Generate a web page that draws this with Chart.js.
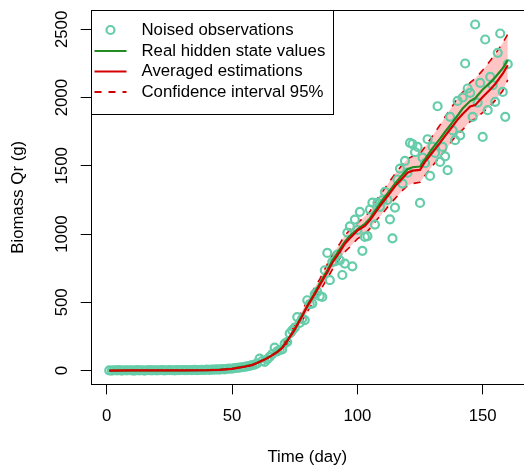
<html>
<head>
<title>Biomass estimation</title>
<script src="https://cdn.jsdelivr.net/npm/chart.js@4.4.1/dist/chart.umd.min.js"></script>
<style>
  html, body { margin: 0; padding: 0; background: #fff; overflow: hidden; }
  #wrap { width: 530px; height: 469px; }
</style>
</head>
<body>
<div id="wrap"><canvas id="plot" width="530" height="469"></canvas></div>
<script>
// ---- data ----
var days = Array.from({ length: 160 }, function (_, i) { return i + 1; });

var observed = [
  1, 0, 2, 1, 3, 0, 2, 1, 2, 1,
  0, 3, 1, 2, 0, 2, 3, 1, 2, 1,
  2, 3, 1, 2, 3, 2, 1, 3, 2, 4,
  3, 2, 4, 3, 5, 3, 4, 5, 4, 6,
  5, 7, 6, 8, 7,
  10, 9, 12, 14, 13, 17, 19, 22, 24, 27, 30, 34, 40, 44, 52,
  87, 70, 63, 82, 100, 120, 168, 140, 150, 155, 198, 209, 272, 295, 314,
  392, 350, 380, 370, 515, 486, 491, 560, 576, 545, 539, 735, 862, 662, 796,
  800, 850, 808, 700, 784, 1011, 1057, 764, 1106, 1030, 1163, 877, 979, 985, 1180,
  1230, 1070, 1228, 1200, 1248, 1309, 1250, 1108, 969, 1194, 1400, 1480, 1370, 1536, 1450,
  1668, 1660, 1600, 1639, 1228, 1560, 1520, 1695, 1426, 1640, 1595, 1937, 1529, 1639, 1570,
  1468, 1859, 1760, 1688, 1976, 1724, 2001, 2250, 2067, 2035, 1859, 2536, 1964, 2108, 1712,
  2426, 1908, 2152, 2091, 1969, 2328, 2470, 2042, 1859, 2245
];

var lineDays = [1, 10, 20, 30, 40, 45, 50, 55, 58, 60, 63, 65, 68, 70, 72, 75, 78, 80, 83, 85, 88, 90,
  93, 95, 97, 100, 103, 105, 108, 110, 113, 115, 118, 120, 122, 125, 127, 130, 133, 135, 138, 140,
  142, 145, 147, 150, 153, 155, 158, 160];

var hiddenState = [0, 0.5, 1, 1.5, 3, 6, 14, 30, 42, 57, 82, 102, 138, 170, 220, 305, 405, 475, 570, 640, 735, 805,
  890, 945, 985, 1035, 1075, 1115, 1195, 1250, 1320, 1370, 1435, 1475, 1490, 1495, 1550, 1630, 1700, 1750, 1820, 1870,
  1920, 1975, 1995, 2060, 2110, 2150, 2215, 2275];

var estimate = [0, 0.5, 1, 1.5, 2, 5, 12, 28, 40, 55, 80, 100, 135, 165, 215, 300, 400, 470, 560, 625, 720, 790,
  870, 930, 970, 1025, 1060, 1100, 1180, 1230, 1300, 1350, 1410, 1450, 1465, 1470, 1530, 1600, 1670, 1720, 1790, 1840,
  1880, 1935, 1945, 2005, 2060, 2100, 2175, 2237];

var ciUpper = [0, 0.5, 1, 2, 3, 7, 15, 33, 46, 62, 90, 110, 150, 185, 240, 330, 440, 510, 610, 670, 780, 845,
  930, 990, 1030, 1080, 1130, 1165, 1260, 1310, 1390, 1440, 1510, 1550, 1570, 1590, 1640, 1720, 1800, 1860, 1940, 2000,
  2040, 2110, 2140, 2200, 2270, 2320, 2400, 2465];

var ciLower = [0, 0.5, 1, 1, 1.5, 3.5, 10, 24, 35, 48, 72, 90, 122, 150, 195, 270, 365, 430, 520, 580, 675, 740,
  820, 870, 905, 965, 1000, 1040, 1110, 1150, 1220, 1260, 1320, 1355, 1370, 1380, 1430, 1500, 1570, 1610, 1690, 1730,
  1765, 1825, 1845, 1890, 1940, 1980, 2050, 2130];

var xTicks = [0, 50, 100, 150];
var yTicks = [0, 500, 1000, 1500, 2000, 2500];

var legendLabels = ['Noised observations', 'Real hidden state values', 'Averaged estimations', 'Confidence interval 95%'];

// ---- styles ----
var obsColor = 'rgb(102,205,170)';
var greenColor = '#228B22';
var redColor = '#D40000';
var bandColor = 'rgb(255,196,196)';
var FONT = '"Liberation Sans", Arial, Helvetica, sans-serif';
var FS = 16.8;

function pts(xs, ys) {
  return xs.map(function (x, i) { return { x: x, y: ys[i] }; });
}

// box around the plot region + legend drawn inside it
var boxPlugin = {
  id: 'rbox',
  afterDraw: function (chart) {
    var ctx = chart.ctx, a = chart.chartArea;
    ctx.save();
    ctx.strokeStyle = '#000';
    ctx.lineWidth = 1;
    ctx.strokeRect(Math.round(a.left) + 0.5, Math.round(a.top) + 0.5,
      Math.round(a.right - a.left), Math.round(a.bottom - a.top));

    // legend
    var lx = Math.round(a.left) + 0.5, ly = Math.round(a.top) + 0.5;
    ctx.fillStyle = '#fff';
    ctx.fillRect(lx, ly, 242, 104);
    ctx.strokeRect(lx, ly, 242, 104);
    var rows = [30, 51, 71.5, 92];
    ctx.font = FS + 'px ' + FONT;
    ctx.textBaseline = 'middle';
    ctx.fillStyle = '#000';
    legendLabels.forEach(function (t, i) {
      ctx.fillText(t, 141.5, rows[i]);
    });
    // symbols
    ctx.beginPath();
    ctx.arc(110.5, rows[0], 4, 0, Math.PI * 2);
    ctx.strokeStyle = obsColor;
    ctx.lineWidth = 2.2;
    ctx.stroke();
    ctx.lineWidth = 2.2;
    ctx.strokeStyle = greenColor;
    ctx.beginPath(); ctx.moveTo(94.5, rows[1]); ctx.lineTo(126.5, rows[1]); ctx.stroke();
    ctx.strokeStyle = redColor;
    ctx.beginPath(); ctx.moveTo(94.5, rows[2]); ctx.lineTo(126.5, rows[2]); ctx.stroke();
    ctx.setLineDash([7, 7]);
    ctx.beginPath(); ctx.moveTo(94.5, rows[3]); ctx.lineTo(126.5, rows[3]); ctx.stroke();
    ctx.restore();
  }
};

function plain(v) { return String(v); }

new Chart(document.getElementById('plot'), {
  type: 'scatter',
  data: {
    datasets: [
      {
        label: 'ci upper',
        data: pts(lineDays, ciUpper),
        showLine: true,
        borderColor: redColor,
        borderWidth: 1.6,
        borderDash: [7, 7],
        pointRadius: 0,
        backgroundColor: bandColor,
        fill: '+1',
        order: 5
      },
      {
        label: 'ci lower',
        data: pts(lineDays, ciLower),
        showLine: true,
        borderColor: redColor,
        borderWidth: 1.6,
        borderDash: [7, 7],
        pointRadius: 0,
        fill: false,
        order: 4
      },
      {
        label: legendLabels[0],
        data: pts(days, observed),
        showLine: false,
        pointRadius: 4,
        pointBorderWidth: 2.2,
        pointBorderColor: obsColor,
        pointBackgroundColor: 'rgba(0,0,0,0)',
        order: 3
      },
      {
        label: legendLabels[1],
        data: pts(lineDays, hiddenState),
        showLine: true,
        borderColor: greenColor,
        borderWidth: 2.2,
        pointRadius: 0,
        fill: false,
        order: 2
      },
      {
        label: legendLabels[2],
        data: pts(lineDays, estimate),
        showLine: true,
        borderColor: redColor,
        borderWidth: 2.2,
        pointRadius: 0,
        fill: false,
        order: 1
      }
    ]
  },
  options: {
    responsive: false,
    animation: false,
    devicePixelRatio: 1,
    layout: { padding: { top: 9.7, right: 1.3, left: 0, bottom: 0 } },
    plugins: {
      legend: { display: false },
      tooltip: { enabled: false }
    },
    scales: {
      x: {
        type: 'linear',
        min: -6.4,
        max: 166.4,
        afterBuildTicks: function (s) { s.ticks = xTicks.map(function (v) { return { value: v }; }); },
        afterFit: function (s) { s.height = 84.6; },
        border: { display: false },
        grid: { drawOnChartArea: false, drawTicks: true, tickLength: 10, color: '#000', lineWidth: 1 },
        ticks: { color: '#000', padding: 12.3, maxRotation: 0, callback: plain, font: { family: FONT, size: FS } },
        title: { display: true, text: 'Time (day)', color: '#000', padding: { top: 0, bottom: 1.4 }, font: { family: FONT, size: FS } }
      },
      y: {
        type: 'linear',
        min: -101.6,
        max: 2641.6,
        afterBuildTicks: function (s) { s.ticks = yTicks.map(function (v) { return { value: v }; }); },
        afterFit: function (s) { s.width = 90.7; },
        border: { display: false },
        grid: { drawOnChartArea: false, drawTicks: true, tickLength: 10, color: '#000', lineWidth: 1 },
        ticks: { color: '#000', padding: 0, minRotation: 90, maxRotation: 90, crossAlign: 'center', callback: plain, font: { family: FONT, size: FS } },
        title: { display: true, text: 'Biomass Qr (g)', color: '#000', padding: { top: 8.4, bottom: 0 }, font: { family: FONT, size: FS } }
      }
    }
  },
  plugins: [boxPlugin]
});
</script>
</body>
</html>
